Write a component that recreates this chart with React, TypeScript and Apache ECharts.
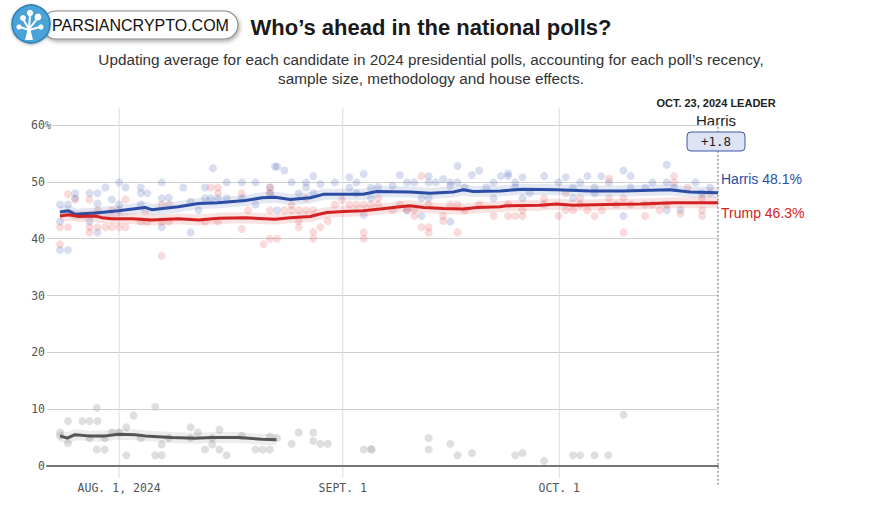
import React, { useEffect, useRef } from "react";
import * as echarts from "echarts";

// Day index 0 = July 22, 2024
const xTickDays = [10, 41, 71];
const xTickLabels = ["AUG. 1, 2024", "SEPT. 1", "OCT. 1"];
const lastDay = 93; // Oct. 23
const yTicks = [0, 10, 20, 30, 40, 50, 60];

const harrisAvg: number[][] = [[1.8,44.7],[3,44.9],[3.9,44.3],[6.7,44.5],[9.9,44.9],[13.6,45.5],[14.5,45.1],[18.2,45.6],[21,46.2],[23.7,46.3],[27.5,46.7],[29.8,47.2],[31.6,47.3],[33.7,46.9],[36.5,47.2],[38.3,47.8],[43.8,47.8],[45.7,48.3],[50.3,48.2],[53.1,48.0],[56.3,48.2],[57.7,48.6],[59.1,48.3],[62.8,48.4],[66,48.7],[70.6,48.6],[75.3,48.4],[79.9,48.4],[86.3,48.6],[89.1,48.2],[93,48.1]];
const trumpAvg: number[][] = [[1.8,44.0],[3,44.2],[4.4,43.9],[6.7,44.0],[7.6,43.7],[9,43.5],[11.8,43.5],[14.5,43.3],[18.2,43.5],[21,43.3],[23.8,43.6],[27.5,43.7],[31.6,43.4],[33.7,43.7],[36.5,43.9],[37.4,44.2],[38.8,44.6],[41.1,44.8],[43.8,44.9],[46.2,45.2],[48.9,45.6],[50.3,45.8],[52.2,45.5],[54.9,45.3],[57.7,45.2],[59.6,45.5],[62.8,45.6],[63.7,45.8],[68.3,45.9],[70.6,46.1],[72.9,45.9],[77.5,46.0],[82.2,46.1],[86.8,46.3],[93,46.3]];
const otherAvg: number[][] = [[1.8,5.3],[2.8,4.9],[3.9,5.5],[5.7,5.3],[8.1,5.3],[9.9,5.6],[12.2,5.5],[13.6,5.3],[17.3,5.0],[20.5,4.9],[22.8,5.0],[26.5,5.0],[29.8,4.7],[31.8,4.6]];

const harrisPolls: number[][] = [[23,52.4],[31.6,52.7],[10,49.9],[15.9,49.9],[18.9,49],[21.9,49],[24.9,49.9],[27,49.9],[28.9,49.9],[8.1,49],[10.9,49],[13,49],[3.9,48],[5.9,48],[7,48],[13,48],[13.9,48],[15.9,47.1],[16.9,47.2],[9,46.9],[10,46],[7,46.2],[1.8,46],[2.9,46],[3.9,47.1],[13,46],[19.9,46.5],[21,45],[21.9,47.1],[22.7,47.1],[23.7,47.1],[24.9,47.1],[27,47.1],[28.9,46],[30.9,49],[30.9,48],[1.8,43],[5.9,43],[7,41.1],[15.9,42],[19.9,41.1],[1.8,38],[2.9,38],
[31.9,52.7],[32.9,52],[33.9,49.9],[35.9,49.9],[36.9,51],[37.9,49.6],[39.9,49.9],[41.9,50.8],[43.9,51.4],[42.9,49.9],[44.9,49],[45.9,49.1],[47.9,49.3],[48.9,51.2],[49.9,49.9],[50.9,49.9],[52.9,51],[52.9,49.9],[53.9,49.9],[54.9,50.5],[55.9,49.9],[56.9,52.8],[56.9,49.9],[57.9,49],[58.9,51.2],[59.9,52],[60.9,49],[61.9,49.9],[31.9,45],[34.9,48],[35.9,49],[36.9,48],[41.9,49],[42.9,48],[43.9,44.2],[44.9,47.1],[51.9,44],[55.9,43],[55.9,49.3],[61.9,47.1],[52.9,47.1],[49.9,45],[51.9,47.1],
[62.9,51],[63.9,51.5],[63.9,51],[64.9,49.9],[64.9,49],[65.9,50.8],[66.9,48],[68.9,51],[70.9,49.9],[71.9,50.8],[72.9,49],[73.9,49.9],[74.9,51],[75.9,49],[76.8,51],[77.9,49.9],[79.9,52],[80.9,51],[80.9,49],[82.9,49],[83.9,49.9],[85.9,53],[85.9,49.9],[86.9,49],[89.9,49.9],[91.9,49],[65.9,47.1],[72.9,47.1],[75.9,48],[79.9,44],[85.9,45],[87.8,45.1],[90.8,48]];
const trumpPolls: number[][] = [[2.9,47.8],[3.9,46.9],[5.9,46.9],[7,45],[10.9,46.9],[15.9,46],[16.9,46],[22.7,49],[23.7,49],[23.7,48],[27,48],[27.9,45],[30.9,45],[1.8,42],[2.9,42],[5.9,41.1],[5.9,42],[7,42],[8.1,42],[9,42],[10,42],[10.9,42],[13,43],[13.9,43],[15.9,43],[16.9,43],[21.9,43],[23.7,43],[27,41.7],[30,39],[30.9,40],[1.8,39],[15.9,37],[9,45],[10,45],[13.6,44.8],
[51.9,51],[30.9,49],[30.9,48],[32.9,45],[33.9,45],[34.9,45],[35.9,45],[36.9,45],[33.9,45.9],[35.9,47.1],[34.9,43.1],[34.9,42],[36.9,41.2],[36.9,40],[37.9,42],[38.9,43.1],[39.9,46],[40.9,46.8],[41.9,46],[42.9,46],[43.9,46],[43.9,41.1],[43.9,40],[44.9,46],[45.9,47.1],[45.9,46],[47.9,45],[48.9,46],[49.9,45],[50.9,45],[50.9,44],[51.9,42],[52.9,42],[52.9,41.1],[52.9,46],[54.9,44],[54.9,43.1],[55.9,46],[56.9,41.1],[56.9,46],[57.9,45],[59.9,46],[61.9,44],[31.9,40],
[63.9,46],[63.9,44],[64.9,44],[65.9,45],[65.9,44],[68.9,46],[68.9,47.1],[70.9,44],[71.9,48],[71.9,45],[72.9,45],[73.9,47.1],[73.9,46],[74.9,45],[75.9,44],[76.9,45],[77.9,50.6],[77.9,47.1],[78.9,46],[79.9,47.1],[79.9,41.1],[80.9,46],[82.9,46],[82.9,44],[83.9,46],[84.9,45],[85.9,46],[86.9,51],[86.9,49.9],[87.8,44.4],[88.8,49],[90.8,47.1],[90.8,45],[90.8,44],[91.9,48]];
const otherPolls: number[][] = [[1.8,5.9],[1.8,5.3],[2.9,4],[2.9,7.9],[4.9,7.9],[5.9,7.9],[7,7.9],[6.9,10.2],[6.9,2.9],[8,2.9],[8,4.9],[5.9,4.9],[9,5.9],[10,5.9],[11,6.8],[12,8.9],[11,1.9],[13,4.9],[15,10.4],[15,1.9],[15.9,1.9],[15.9,3.8],[16.9,4.9],[19.9,6.8],[19.9,4.9],[20.9,5.9],[21.9,2.9],[22.9,3.8],[22.9,4.9],[23.9,6.4],[23.9,2.9],[24.9,1.9],[27,5.3],[28.9,2.9],[29.9,2.9],[30.9,2.9],[30.9,5.2],[31.9,4.9],[33.9,3.9],[34.9,5.9],[36.9,5.9],[36.9,4.4],[37.9,3.9],[38.9,3.9],[43.9,2.9],[44.9,3.0],[45,2.9],[52.9,4.9],[52.9,2.9],[55.9,3.9],[56.9,1.9],[58.9,2.3],[64.9,1.9],[65.9,2.3],[68.9,0.9],[72.9,1.9],[73.9,1.9],[75.9,1.9],[77.8,1.9],[79.9,9.0]];

// vertical reference rules: [day, from, to, dotted]
const refRules: number[][] = [[10, -2.1, 63, 0], [41, -2.1, 63, 0], [71, -2.1, 63, 0], [lastDay, -3.3, 60.7, 1]];

const HARRIS = "#2c4da5";
const TRUMP = "#d42222";
const MONO = "'DejaVu Sans Mono', monospace";
const SANS = "'Liberation Sans', Arial, sans-serif";

export default function App() {
  const ref = useRef<HTMLDivElement>(null);
  useEffect(() => {
    document.body.style.margin = "0";
    const chart = echarts.init(ref.current!, null, { renderer: "svg" });
    const option: any = {
      animation: false,
      backgroundColor: "#fff",
      grid: { left: 47, right: 151, top: 125, bottom: 43 },
      xAxis: {
        type: "value",
        min: 0,
        max: lastDay,
        splitLine: { show: false },
        axisTick: { show: false },
        axisLine: { show: true, onZero: false, lineStyle: { color: "#777", width: 2 } },
        axisLabel: {
          customValues: xTickDays,
          formatter: (v: number) => xTickLabels[xTickDays.indexOf(Math.round(v))] ?? "",
          fontFamily: MONO,
          fontSize: 11.5,
          color: "#555",
          margin: 16,
        },
      },
      yAxis: {
        type: "value",
        min: 0,
        max: 60,
        interval: 10,
        axisLine: { show: false },
        axisTick: { show: false },
        splitLine: { lineStyle: { color: "#cfcfcf", width: 1 } },
        axisLabel: {
          align: "left",
          margin: 16,
          formatter: (v: number) => (v === 60 ? "{n|60}{p|%}" : "{n|" + v + "}"),
          rich: {
            n: { width: 14, align: "right", fontFamily: MONO, fontSize: 11.5, color: "#555" },
            p: { fontFamily: MONO, fontSize: 10, color: "#555" },
          },
        },
      },
      series: [
        {
          type: "custom",
          data: refRules,
          clip: false,
          silent: true,
          z: 0,
          encode: { x: 0, y: 1 },
          renderItem: (params: any, api: any) => {
            const d = api.value(0);
            const p0 = api.coord([d, api.value(1)]);
            const p1 = api.coord([d, api.value(2)]);
            const dotted = api.value(3) === 1;
            return {
              type: "line",
              shape: { x1: p0[0], y1: p0[1], x2: p1[0], y2: p1[1] },
              style: dotted
                ? { stroke: "#666", lineWidth: 1, lineDash: [2, 2] }
                : { stroke: "#dcdcdc", lineWidth: 1 },
              z2: dotted ? 50 : 0,
            };
          },
        },
        { type: "scatter", data: otherPolls, symbolSize: 8, itemStyle: { color: "#b8b8b8", opacity: 0.45 }, silent: true, z: 1 },
        { type: "scatter", data: harrisPolls, symbolSize: 8, itemStyle: { color: "#3a5ab5", opacity: 0.2 }, silent: true, z: 1 },
        { type: "scatter", data: trumpPolls, symbolSize: 8, itemStyle: { color: "#e03535", opacity: 0.18 }, silent: true, z: 1 },
        { type: "line", data: otherAvg, showSymbol: false, silent: true, lineStyle: { color: "#000", opacity: 0.07, width: 11 }, z: 2 },
        { type: "line", data: harrisAvg, showSymbol: false, silent: true, lineStyle: { color: HARRIS, opacity: 0.13, width: 11 }, z: 2 },
        { type: "line", data: trumpAvg, showSymbol: false, silent: true, lineStyle: { color: TRUMP, opacity: 0.13, width: 11 }, z: 2 },
        { type: "line", data: otherAvg, showSymbol: false, silent: true, lineStyle: { color: "#555", width: 3 }, z: 3 },
        {
          type: "line",
          name: "Harris",
          data: harrisAvg,
          showSymbol: false,
          silent: true,
          lineStyle: { color: HARRIS, width: 3 },
          z: 3,
          endLabel: {
            show: true,
            formatter: (p: any) => "Harris " + p.value[1].toFixed(1) + "%",
            color: HARRIS,
            fontFamily: SANS,
            fontSize: 14,
            distance: 3,
            offset: [0, -14],
          },
        },
        {
          type: "line",
          name: "Trump",
          data: trumpAvg,
          showSymbol: false,
          silent: true,
          lineStyle: { color: TRUMP, width: 3 },
          z: 3,
          endLabel: {
            show: true,
            formatter: (p: any) => "Trump " + p.value[1].toFixed(1) + "%",
            color: TRUMP,
            fontFamily: SANS,
            fontSize: 14,
            distance: 3,
            offset: [0, 10],
          },
        },
      ],
      graphic: [
        // logo
        {
          type: "rect",
          shape: { x: 42, y: 11, width: 196, height: 28, r: 14 },
          style: { fill: "#fff", stroke: "#8a8a8a", lineWidth: 1.2, shadowBlur: 4, shadowColor: "rgba(0,0,0,0.35)", shadowOffsetX: 1, shadowOffsetY: 2 },
        },
        {
          type: "circle",
          shape: { cx: 31, cy: 24, r: 19 },
          style: { fill: "#4aa2d8", stroke: "#2f7fb5", lineWidth: 1.5, shadowBlur: 3, shadowColor: "rgba(0,0,0,0.3)", shadowOffsetY: 1 },
        },
        { type: "polygon", shape: { points: [[25, 40], [28, 28], [30, 28], [33, 40]] }, style: { fill: "#fff" } },
        { type: "polyline", shape: { points: [[29, 29], [23, 19]] }, style: { stroke: "#fff", lineWidth: 2 } },
        { type: "polyline", shape: { points: [[29, 29], [30, 15]] }, style: { stroke: "#fff", lineWidth: 2 } },
        { type: "polyline", shape: { points: [[29, 29], [37, 19]] }, style: { stroke: "#fff", lineWidth: 2 } },
        { type: "polyline", shape: { points: [[29, 30], [20, 27]] }, style: { stroke: "#fff", lineWidth: 2 } },
        { type: "polyline", shape: { points: [[29, 30], [40, 27]] }, style: { stroke: "#fff", lineWidth: 2 } },
        { type: "circle", shape: { cx: 23, cy: 18, r: 3 }, style: { fill: "#fff" } },
        { type: "circle", shape: { cx: 30, cy: 13, r: 3.2 }, style: { fill: "#fff" } },
        { type: "circle", shape: { cx: 38, cy: 17, r: 3.4 }, style: { fill: "#fff" } },
        { type: "circle", shape: { cx: 19, cy: 27, r: 2.6 }, style: { fill: "#fff" } },
        { type: "circle", shape: { cx: 41, cy: 27, r: 2.6 }, style: { fill: "#fff" } },
        {
          type: "text",
          x: 52,
          y: 25,
          style: { text: "PARSIANCRYPTO.COM", font: "16px 'Liberation Sans', Arial, sans-serif", fill: "#111", verticalAlign: "middle" },
        },
        // title
        {
          type: "text",
          x: 431,
          y: 27,
          style: { text: "Who’s ahead in the national polls?", font: "bold 22px 'Liberation Sans', Arial, sans-serif", fill: "#1a1a1a", align: "center", verticalAlign: "middle" },
        },
        {
          type: "text",
          x: 431,
          y: 68.5,
          style: {
            text: "Updating average for each candidate in 2024 presidential polls, accounting for each poll’s recency,\nsample size, methodology and house effects.",
            font: "15.3px 'Liberation Sans', Arial, sans-serif",
            lineHeight: 19,
            fill: "#333",
            align: "center",
            verticalAlign: "middle",
          },
        },
        // leader annotation
        {
          type: "text",
          x: 716,
          y: 103,
          style: { text: "OCT. 23, 2024 LEADER", font: "bold 11px 'Liberation Sans', Arial, sans-serif", fill: "#222", align: "center", verticalAlign: "middle" },
        },
        {
          type: "text",
          x: 716,
          y: 120,
          style: { text: "Harris", font: "15px 'Liberation Sans', Arial, sans-serif", fill: "#222", align: "center", verticalAlign: "middle" },
        },
        {
          type: "rect",
          z: 100,
          shape: { x: 687, y: 132, width: 58, height: 19, r: 4 },
          style: { fill: "#dde3f2", stroke: "#3d56a6", lineWidth: 1 },
        },
        {
          type: "text",
          z: 101,
          x: 716,
          y: 141.5,
          style: { text: "+1.8", font: "12.5px 'DejaVu Sans Mono', monospace", fill: "#222", align: "center", verticalAlign: "middle" },
        },
      ],
    };
    chart.setOption(option);
    return () => chart.dispose();
  }, []);
  return <div ref={ref} style={{ position: "fixed", left: 0, top: 0, width: 869, height: 509 }} />;
}
